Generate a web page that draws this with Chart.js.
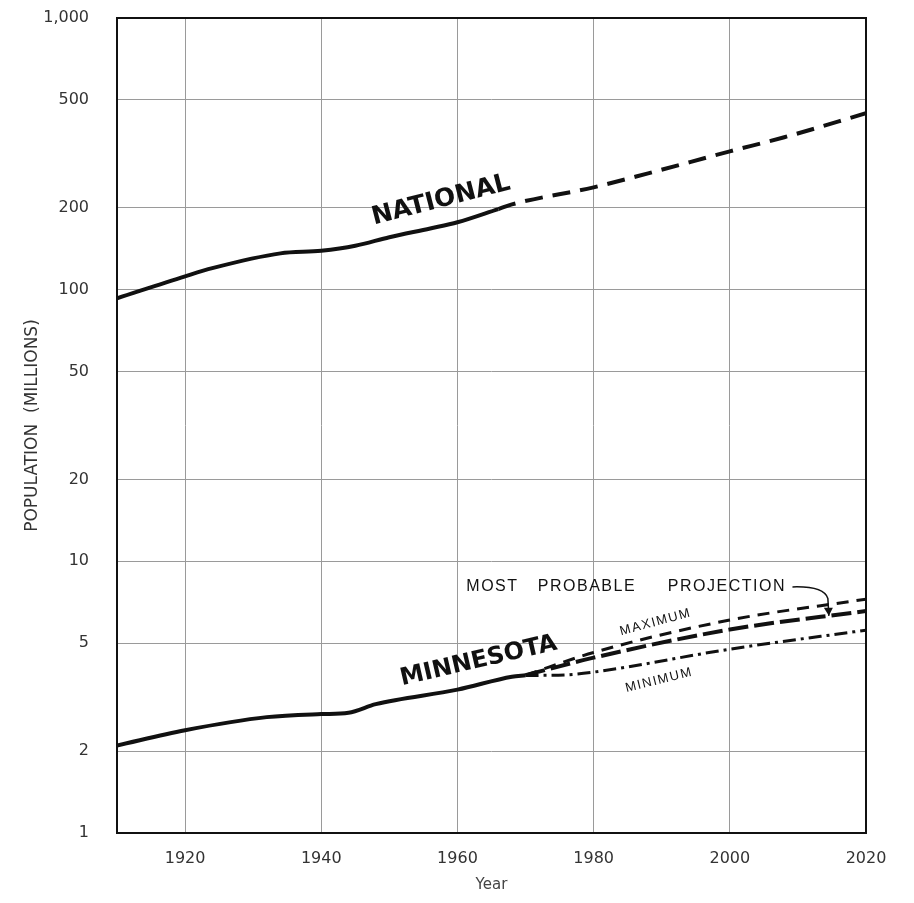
<!DOCTYPE html>
<html>
<head>
<meta charset="utf-8">
<script src="https://cdn.jsdelivr.net/npm/chart.js@4"></script>
<style>
  body { margin: 0; background: #fff; }
  canvas { display: block; }
</style>
</head>
<body>
<canvas id="chart" width="914" height="903"></canvas>
<script>
// values (population in millions)
const natYears = [1910, 1920, 1924, 1934, 1940, 1945, 1950, 1956, 1960, 1966]
const natPop = [93, 112, 120, 136, 139, 145, 156, 168, 177, 198]
const natProjYears = [1966, 1968, 1980, 1988, 2000, 2008, 2020]
const natProjPop = [198, 206, 238, 268, 323, 364, 446]

const mnYears = [1910, 1920, 1932, 1940, 1944, 1948, 1960, 1968, 1970]
const mnPop = [2.10, 2.39, 2.67, 2.74, 2.77, 2.98, 3.37, 3.76, 3.81]
const mnProjYears = [1970, 1980, 2000, 2020]
const mnMaxPop = [3.81, 4.62, 6.08, 7.26]
const mnProbPop = [3.81, 4.42, 5.61, 6.56]
const mnMinYears = [1970, 1976, 1980, 2000, 2020]
const mnMinPop = [3.80, 3.82, 3.91, 4.75, 5.58]

const yTicks = [1, 2, 5, 10, 20, 50, 100, 200, 500, 1000]
const xTicks = [1920, 1940, 1960, 1980, 2000, 2020]

function pts(xs, ys) {
    return xs.map((x, i) => ({x: x, y: ys[i]}))
}

function line(data, width, dash) {
    return {
        data: data,
        borderColor: "#111",
        borderWidth: width,
        borderDash: dash,
        pointRadius: 0,
        fill: false,
        cubicInterpolationMode: "monotone",
        borderCapStyle: "butt"
    }
}

// text labels placed in data coordinates
const notes = [
    {text: "NATIONAL", x: 1957.6, y: 213, angle: -14.5, font: "bold 25px 'DejaVu Sans'", align: "center"},
    {text: "MINNESOTA", x: 1963.1, y: 4.29, angle: -13, font: "bold 24px 'DejaVu Sans'", align: "center"},
    {text: "MOST", x: 1961.3, y: 8.05, angle: 0, font: "16px 'Liberation Sans'", align: "left", spacing: "1.5px"},
    {text: "PROBABLE", x: 1971.8, y: 8.05, angle: 0, font: "16px 'Liberation Sans'", align: "left", spacing: "1.5px"},
    {text: "PROJECTION", x: 1990.9, y: 8.05, angle: 0, font: "16px 'Liberation Sans'", align: "left", spacing: "1.5px"},
    {text: "MAXIMUM", x: 1989.1, y: 5.97, angle: -15, font: "13px 'Liberation Sans'", align: "center", spacing: "1.5px"},
    {text: "MINIMUM", x: 1989.6, y: 3.65, angle: -14, font: "13px 'Liberation Sans'", align: "center", spacing: "1.5px"}
]

const annotate = {
    id: "annotate",
    beforeDatasetsDraw(chart) {
        const a = chart.chartArea
        const ctx = chart.ctx
        ctx.save()
        ctx.strokeStyle = "#111"
        ctx.lineWidth = 2
        ctx.strokeRect(a.left, a.top, a.right - a.left, a.bottom - a.top)
        ctx.restore()
    },
    afterDatasetsDraw(chart) {
        const xs = chart.scales.x
        const ys = chart.scales.y
        const ctx = chart.ctx
        ctx.save()
        ctx.fillStyle = "#111"
        ctx.textBaseline = "middle"
        for (const n of notes) {
            ctx.save()
            ctx.translate(xs.getPixelForValue(n.x), ys.getPixelForValue(n.y))
            ctx.rotate(n.angle * Math.PI / 180)
            ctx.font = n.font
            ctx.letterSpacing = n.spacing || "0px"
            ctx.textAlign = n.align
            ctx.fillText(n.text, 0, 0)
            ctx.restore()
        }
        // arrow from the projection label down to the most probable line
        const x0 = xs.getPixelForValue(2009.2), y0 = ys.getPixelForValue(8.05)
        const x1 = xs.getPixelForValue(2014.4), y1 = ys.getPixelForValue(7.3)
        const y2 = ys.getPixelForValue(6.3)
        ctx.strokeStyle = "#111"
        ctx.lineWidth = 1.5
        ctx.beginPath()
        ctx.moveTo(x0, y0)
        ctx.quadraticCurveTo(x1 - 4, y0 - 1, x1, y1)
        ctx.lineTo(x1 + 1, y2)
        ctx.stroke()
        ctx.beginPath()
        ctx.moveTo(x1 - 4, y2 - 8)
        ctx.lineTo(x1 + 1, y2)
        ctx.lineTo(x1 + 5, y2 - 8)
        ctx.closePath()
        ctx.fill()
        ctx.restore()
    }
}

new Chart(document.getElementById("chart"), {
    type: "line",
    data: {
        datasets: [
            line(pts(natYears, natPop), 4, []),
            line(pts(natProjYears, natProjPop), 4, [18, 10]),
            line(pts(mnYears, mnPop), 4, []),
            line(pts(mnProjYears, mnMaxPop), 3, [12, 8]),
            line(pts(mnProjYears, mnProbPop), 4, [20, 6]),
            line(pts(mnMinYears, mnMinPop), 3, [13, 5, 3, 5])
        ]
    },
    options: {
        responsive: false,
        animation: false,
        layout: {padding: {top: 0, right: 48, bottom: 0, left: 0}},
        plugins: {legend: {display: false}, tooltip: {enabled: false}},
        scales: {
            x: {
                type: "linear",
                min: 1910,
                max: 2020,
                afterBuildTicks: s => { s.ticks = xTicks.map(v => ({value: v})) },
                afterFit: s => { s.height = 70 },
                grid: {color: "#9a9a9a", lineWidth: 1, drawTicks: false},
                border: {display: false},
                ticks: {
                    padding: 16,
                    color: "#333",
                    font: {family: "'DejaVu Sans'", size: 16},
                    callback: v => String(v)
                },
                title: {
                    display: true,
                    text: "Year",
                    color: "#444",
                    font: {family: "'DejaVu Sans'", size: 15},
                    padding: {top: 0, bottom: 9}
                }
            },
            y: {
                type: "logarithmic",
                min: 1,
                max: 1000,
                afterBuildTicks: s => { s.ticks = yTicks.map(v => ({value: v})) },
                afterFit: s => { s.width = 117; s.paddingTop = 18; s.paddingBottom = 0 },
                grid: {color: "#9a9a9a", lineWidth: 1, drawTicks: false},
                border: {display: false},
                ticks: {
                    padding: 28,
                    color: "#333",
                    font: {family: "'DejaVu Sans'", size: 16},
                    callback: v => v.toLocaleString("en-US")
                },
                title: {
                    display: true,
                    text: "POPULATION  (MILLIONS)",
                    color: "#333",
                    font: {family: "'DejaVu Sans'", size: 17},
                    padding: {top: 22, bottom: 0}
                }
            }
        }
    },
    plugins: [annotate]
})
</script>
</body>
</html>
